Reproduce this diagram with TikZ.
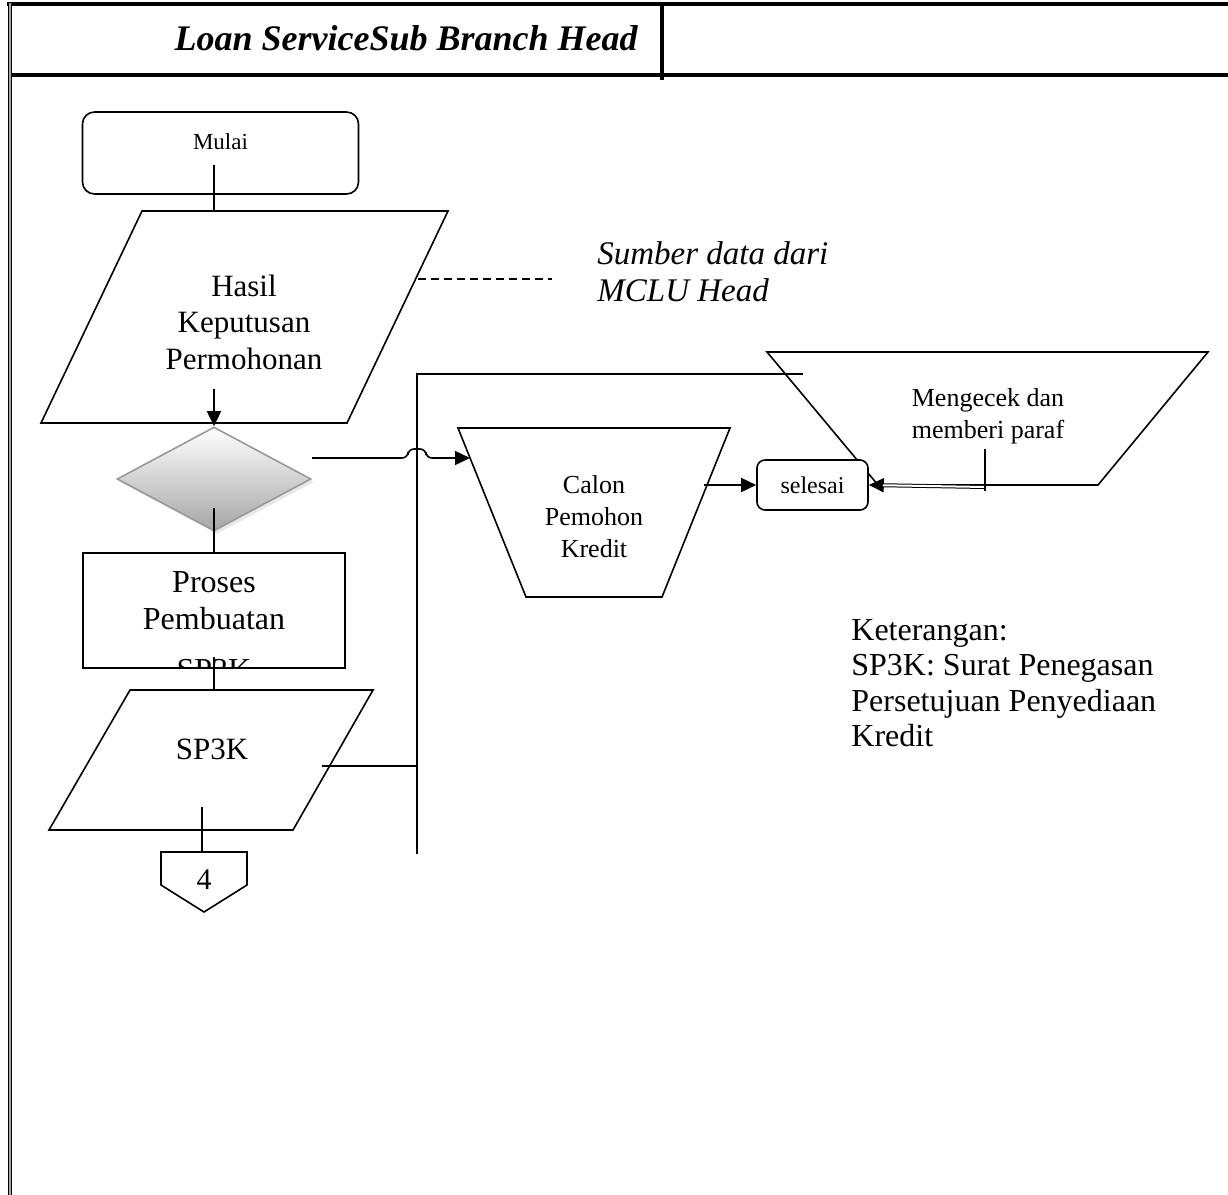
\documentclass[tikz,border=0pt]{standalone}
\usepackage{fontspec}
\setmainfont{Liberation Serif}
\usetikzlibrary{arrows.meta,shapes.geometric,shadows}
\tikzset{
  alur/.style={line width=0.8pt},
  panah/.style={alur, -{Triangle[length=7.5pt,width=7pt]}},
  teks/.style={inner sep=0pt, align=center},
}
\begin{document}
\begin{tikzpicture}[x=0.5pt,y=-0.5pt]
\useasboundingbox (0,0) rectangle (1228,1195);
	%Bingkai
\draw[line width=2pt] (7,4) -- (1228,4); %Garis atas
\draw[line width=2.4pt] (10,75) -- (1228,75); %Garis bawah judul
\draw[line width=0.5pt, double=gray!70, double distance=1.3pt] (10,3) -- (10,1195); %Garis kiri
\draw[line width=2.2pt] (662,4) -- (662,80); %Pemisah kolom
\node[teks, anchor=east, font=\fontsize{18}{21}\selectfont\bfseries\itshape] (judul) at (638,38) {Loan ServiceSub Branch Head};
	%Mulai
\node[draw, alur, rounded corners=6pt, minimum width=138pt, minimum height=41pt, text height=8pt, text depth=12pt, font=\fontsize{11.5}{14}\selectfont] (mulai) at (220.5,153) {Mulai};
	%Hasil keputusan
\draw[alur] (142,211) -- (448,211) -- (347,423) -- (41,423) -- cycle;
\node[teks, font=\fontsize{15.5}{18.3}\selectfont] (hasil) at (244,322) {Hasil\\Keputusan\\Permohonan};
\coordinate (mulai-bawah) at (214,165);
\coordinate (hasil-atas) at (214,211);
\coordinate (hasil-bawah) at (214,389);
\coordinate (hasil-kanan) at (418,279);
\coordinate (catatan-ujung) at (552,279);
\draw[alur] (mulai-bawah) -- (hasil-atas);
\draw[line width=0.6pt, dash pattern=on 4pt off 2.5pt] (hasil-kanan) -- (catatan-ujung); %Garis catatan
\node[teks, anchor=west, align=left, font=\fontsize{16.5}{18.5}\selectfont\itshape] (sumber) at (597,272) {Sumber data dari\\MCLU Head};
	%Keputusan
\node[diamond, draw=gray!80, line width=0.8pt, top color=white, bottom color=gray!70, drop shadow={shadow xshift=1.5pt, shadow yshift=-1.5pt, fill=gray!35}, minimum width=97pt, minimum height=52pt, inner sep=0pt] (keputusan) at (214,479) {};
\draw[panah] (hasil-bawah) -- (keputusan.north);
\coordinate (kep-dalam) at (214,508);
\coordinate (kep-kanan) at (312,458);
	%Proses
\node[draw, alur, minimum width=131pt, minimum height=57.5pt, inner sep=0pt] (proses) at (214,610.5) {};
\begin{scope}
\clip (proses.south west) rectangle (proses.north east);
\node[teks, font=\fontsize{16}{18.5}\selectfont] (tproses) at (214,626.5) {Proses\\Pembuatan\\[7pt]SP3K};
\end{scope}
\draw[alur] (kep-dalam) -- (proses.north);
	%SP3K
\draw[alur] (130,690) -- (373,690) -- (293,830) -- (49,830) -- cycle;
\node[teks, font=\fontsize{15.5}{18}\selectfont] (sp3k) at (212,749) {SP3K};
\coordinate (proses-dalam) at (214,657);
\coordinate (sp3k-atas) at (214,690);
\coordinate (sp3k-dalam) at (202,807);
\coordinate (sp3k-kanan) at (322,766);
\draw[alur] (proses-dalam) -- (sp3k-atas);
	%Penghubung halaman
\draw[alur] (161,852) -- (247,852) -- (247,885) -- (204,912) -- (161,885) -- cycle;
\node[teks, font=\fontsize{15}{18}\selectfont] (hal4) at (204,880) {4};
\coordinate (konektor-atas) at (202,852);
\draw[alur] (sp3k-dalam) -- (konektor-atas);
	%Jalur kembali
\coordinate (jalur-bawah) at (417,854);
\coordinate (jalur-atas) at (417,374);
\coordinate (jalur-kanan) at (803,374);
\draw[alur] (sp3k-kanan) -- (sp3k-kanan -| jalur-atas);
\draw[alur] (jalur-bawah) -- (jalur-atas) -- (jalur-kanan);
	%Mengecek
\draw[alur] (767,352) -- (1208,352) -- (1098,485) -- (878,485) -- cycle;
\node[teks, font=\fontsize{13}{16}\selectfont] (mengecek) at (988,416) {Mengecek dan\\memberi paraf};
	%Calon pemohon
\draw[alur] (458,428) -- (730,428) -- (662,597) -- (526,597) -- cycle;
\node[teks, font=\fontsize{13}{16}\selectfont] (calon) at (594,517) {Calon\\Pemohon\\Kredit};
\coordinate (calon-kiri) at (470,458);
\coordinate (calon-kanan) at (704,485);
\draw[panah, rounded corners=3pt] (kep-kanan) -- (408,458) -- (408,449) -- (426,449) -- (426,458) -- (calon-kiri); %Lompatan garis
	%Selesai
\node[draw, alur, fill=white, rounded corners=4pt, minimum width=55.5pt, minimum height=25pt, font=\fontsize{12}{14}\selectfont] (selesai) at (812.5,485) {selesai};
\draw[panah] (calon-kanan) -- (selesai.west);
\coordinate (paraf) at (985,487);
\coordinate (tanda-atas) at (985,449);
\coordinate (tanda-bawah) at (985,491);
\draw[panah] (paraf) -- (selesai.east);
\draw[line width=0.5pt, double, double distance=1pt, shorten >=7pt] (paraf) -- (selesai.east);
\draw[alur] (tanda-atas) -- (tanda-bawah);
	%Keterangan
\node[teks, anchor=west, align=left, font=\fontsize{16}{17.75}\selectfont] (keterangan) at (851,683) {Keterangan:\\SP3K: Surat Penegasan\\Persetujuan Penyediaan\\Kredit};
\end{tikzpicture}
\end{document}
